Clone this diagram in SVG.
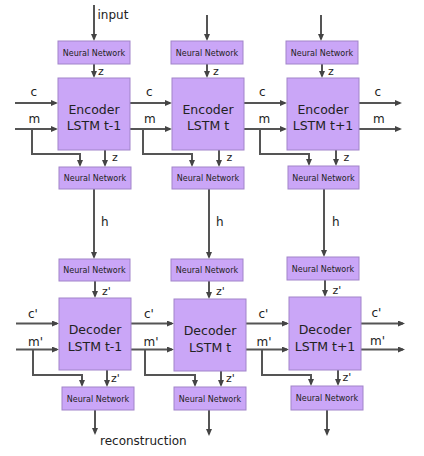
<svg xmlns="http://www.w3.org/2000/svg" width="424" height="456" viewBox="0 0 424 456">
<style>
.box{fill:#caa6f7;stroke:#a184c9;stroke-width:1}
.nn{font-family:"DejaVu Sans",sans-serif;font-size:8px;fill:#222;text-anchor:middle}
.big{font-family:"DejaVu Sans",sans-serif;font-size:12.5px;fill:#222;text-anchor:middle}
.lbl{font-family:"DejaVu Sans",sans-serif;font-size:12px;fill:#222}
.sm{font-family:"DejaVu Sans",sans-serif;font-size:11px;fill:#222}
.ln{fill:none;stroke:#555;stroke-width:2;marker-end:url(#ah)}
</style>
<defs>
<marker id="ah" markerUnits="userSpaceOnUse" markerWidth="8" markerHeight="7" refX="5" refY="3" orient="auto">
<path d="M0,0 L7,3 L0,6 z" fill="#444"/>
</marker>
</defs>
<rect width="424" height="456" fill="#fff"/>
<g id="connectors">
<path class="ln" d="M94,5 V39"/>
<path class="ln" d="M207,15 V39"/>
<path class="ln" d="M321,15 V39"/>
<path class="ln" d="M94,64 V76"/>
<path class="ln" d="M207,64 V76"/>
<path class="ln" d="M322,64 V76"/>
<path class="ln" d="M15,103 H56"/>
<path class="ln" d="M130,103 H170"/>
<path class="ln" d="M244,103 H285"/>
<path class="ln" d="M359,103 H400"/>
<path class="ln" d="M15,129 H56"/>
<path class="ln" d="M130,129 H170"/>
<path class="ln" d="M244,129 H285"/>
<path class="ln" d="M359,129 H400"/>
<path class="ln" d="M32,129 V154 H80 V165"/>
<path class="ln" d="M143,129 V154 H192 V165"/>
<path class="ln" d="M260,129 V154 H309 V164"/>
<path class="ln" d="M105,150 V165"/>
<path class="ln" d="M219,150 V165"/>
<path class="ln" d="M336,150 V164"/>
<path class="ln" d="M94,189 V257"/>
<path class="ln" d="M209,189 V257"/>
<path class="ln" d="M324,189 V255"/>
<path class="ln" d="M95,281 V296"/>
<path class="ln" d="M209,281 V297"/>
<path class="ln" d="M325,280 V295"/>
<path class="ln" d="M16,323.5 H57"/>
<path class="ln" d="M131,323.5 H172"/>
<path class="ln" d="M246,323.5 H287"/>
<path class="ln" d="M361,323.5 H403"/>
<path class="ln" d="M16,349.5 H57"/>
<path class="ln" d="M131,349.5 H172"/>
<path class="ln" d="M246,349.5 H287"/>
<path class="ln" d="M361,349.5 H403"/>
<path class="ln" d="M33,349.5 V375 H82 V385"/>
<path class="ln" d="M145,349.5 V375 H195 V385"/>
<path class="ln" d="M262,349.5 V375 H311 V384"/>
<path class="ln" d="M107,370 V385"/>
<path class="ln" d="M221,371 V385"/>
<path class="ln" d="M338,370 V384"/>
<path class="ln" d="M95,410 V433"/>
<path class="ln" d="M209,410 V434"/>
<path class="ln" d="M327,410 V434"/>
</g>
<g id="labels">
<text class="lbl" x="97.5" y="19">input</text>
<text class="sm" x="98" y="75">z</text>
<text class="sm" x="213" y="75">z</text>
<text class="sm" x="328" y="75">z</text>
<text class="lbl" x="30.5" y="96">c</text>
<text class="lbl" x="146" y="96">c</text>
<text class="lbl" x="259" y="96">c</text>
<text class="lbl" x="374.5" y="96">c</text>
<text class="lbl" x="28.5" y="123">m</text>
<text class="lbl" x="144" y="123">m</text>
<text class="lbl" x="258.5" y="123">m</text>
<text class="lbl" x="373" y="123">m</text>
<text class="sm" x="112" y="161">z</text>
<text class="sm" x="226.5" y="161">z</text>
<text class="sm" x="343.5" y="161">z</text>
<text class="lbl" x="101" y="226">h</text>
<text class="lbl" x="216" y="226">h</text>
<text class="lbl" x="332" y="226">h</text>
<text class="sm" x="102" y="294.5">z'</text>
<text class="sm" x="216" y="294.5">z'</text>
<text class="sm" x="332.5" y="293.5">z'</text>
<text class="lbl" x="28" y="318">c'</text>
<text class="lbl" x="144" y="318">c'</text>
<text class="lbl" x="258.5" y="318">c'</text>
<text class="lbl" x="371.5" y="317">c'</text>
<text class="lbl" x="28" y="345.5">m'</text>
<text class="lbl" x="143.5" y="345.5">m'</text>
<text class="lbl" x="256.5" y="345.5">m'</text>
<text class="lbl" x="370" y="344.5">m'</text>
<text class="sm" x="111" y="382">z'</text>
<text class="sm" x="226" y="382">z'</text>
<text class="sm" x="342.5" y="381">z'</text>
<text class="lbl" x="100" y="445">reconstruction</text>
</g>
<g id="nn-enc-in-1"><rect class="box" x="58" y="41" width="72" height="23"/><text class="nn" x="94" y="55.5">Neural Network</text></g>
<g id="nn-enc-in-2"><rect class="box" x="171" y="41" width="72" height="23"/><text class="nn" x="207" y="55.5">Neural Network</text></g>
<g id="nn-enc-in-3"><rect class="box" x="286" y="41" width="72" height="23"/><text class="nn" x="322" y="55.5">Neural Network</text></g>
<g id="enc-1"><rect class="box" x="58" y="78" width="72" height="72"/><text class="big" x="94" y="113.5">Encoder</text><text class="big" x="94" y="129.5">LSTM t-1</text></g>
<g id="enc-2"><rect class="box" x="172" y="78" width="72" height="72"/><text class="big" x="208" y="113.5">Encoder</text><text class="big" x="208" y="129.5">LSTM t</text></g>
<g id="enc-3"><rect class="box" x="287" y="78" width="72" height="72"/><text class="big" x="323" y="113.5">Encoder</text><text class="big" x="323" y="129.5">LSTM t+1</text></g>
<g id="nn-enc-out-1"><rect class="box" x="59" y="167" width="72" height="22"/><text class="nn" x="95" y="181">Neural Network</text></g>
<g id="nn-enc-out-2"><rect class="box" x="172" y="167" width="72" height="22"/><text class="nn" x="208" y="181">Neural Network</text></g>
<g id="nn-enc-out-3"><rect class="box" x="288" y="166" width="71" height="23"/><text class="nn" x="323.5" y="180.5">Neural Network</text></g>
<g id="nn-dec-in-1"><rect class="box" x="59" y="259" width="71" height="22"/><text class="nn" x="94.5" y="273">Neural Network</text></g>
<g id="nn-dec-in-2"><rect class="box" x="171" y="259" width="72" height="22"/><text class="nn" x="207" y="273">Neural Network</text></g>
<g id="nn-dec-in-3"><rect class="box" x="287" y="257" width="72" height="23"/><text class="nn" x="323" y="271.5">Neural Network</text></g>
<g id="dec-1"><rect class="box" x="59" y="298" width="72" height="72"/><text class="big" x="95" y="334">Decoder</text><text class="big" x="95" y="351">LSTM t-1</text></g>
<g id="dec-2"><rect class="box" x="174" y="299" width="72" height="72"/><text class="big" x="210" y="334.5">Decoder</text><text class="big" x="210" y="351.5">LSTM t</text></g>
<g id="dec-3"><rect class="box" x="289" y="297" width="72" height="73"/><text class="big" x="325" y="333.5">Decoder</text><text class="big" x="325" y="350.5">LSTM t+1</text></g>
<g id="nn-dec-out-1"><rect class="box" x="62" y="387" width="72" height="23"/><text class="nn" x="98" y="401.5">Neural Network</text></g>
<g id="nn-dec-out-2"><rect class="box" x="174" y="387" width="72" height="23"/><text class="nn" x="210" y="401.5">Neural Network</text></g>
<g id="nn-dec-out-3"><rect class="box" x="291" y="386" width="72" height="24"/><text class="nn" x="327" y="400.5">Neural Network</text></g>
</svg>
